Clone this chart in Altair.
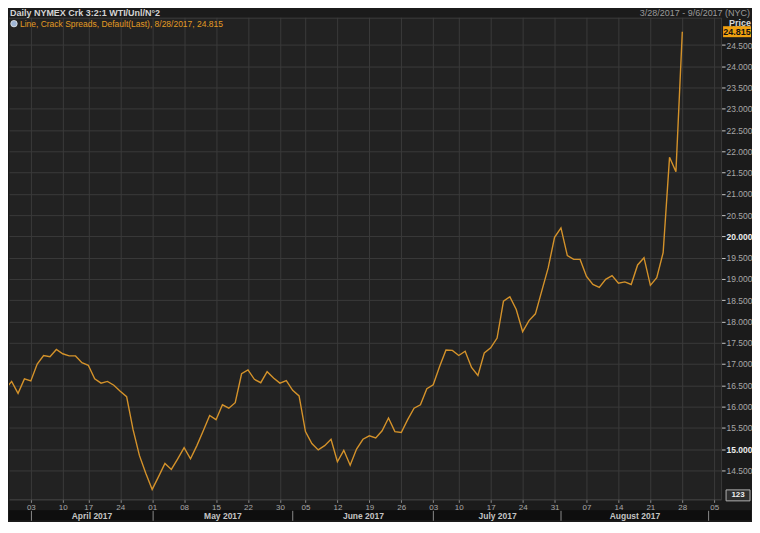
import json
import pandas as pd
import altair as alt

# ---------------- texts ----------------
TITLE = "Daily NYMEX Crk 3:2:1 WTI/Unl/N°2"
RANGE_TEXT = "3/28/2017 - 9/6/2017 (NYC)"
LEGEND_TEXT = "Line, Crack Spreads, Default(Last), 8/28/2017, 24.815"
AXIS_HEAD = ["Price", "USD"]
BUTTON_TEXT = "123"

# ---------------- calendar ----------------
range_start, range_end = "2017-03-28", "2017-09-06"
holidays = ["2017-04-14", "2017-05-29", "2017-07-04", "2017-09-04"]

# ---------------- daily closes (trading days) ----------------
mar_2017 = [16.41, 16.59, 16.31, 16.65]
apr_2017 = [16.60, 17.00, 17.20, 17.17, 17.34,
            17.24, 17.19, 17.19, 17.03,
            16.97, 16.65, 16.55, 16.59, 16.50,
            16.36, 16.23, 15.46, 14.85, 14.43]
may_2017 = [14.05, 14.35, 14.66, 14.52, 14.77,
            15.03, 14.77, 15.08, 15.43, 15.79,
            15.69, 16.04, 15.96, 16.09, 16.77,
            16.86, 16.64, 16.56, 16.82, 16.67,
            16.55, 16.61]
jun_2017 = [16.38, 16.25,
            15.41, 15.13, 14.98, 15.08, 15.23,
            14.70, 14.97, 14.62, 15.00, 15.23,
            15.31, 15.26, 15.43, 15.73, 15.41,
            15.39, 15.69, 15.96, 16.04, 16.42]
jul_2017 = [16.51, 16.94, 17.33, 17.32,
            17.20, 17.30, 16.92, 16.73, 17.26,
            17.38, 17.61, 18.48, 18.58, 18.28,
            17.76, 18.02, 18.18, 18.72, 19.26,
            19.98]
aug_2017 = [20.20, 19.55, 19.46, 19.46,
            19.06, 18.87, 18.80, 18.99, 19.08,
            18.90, 18.93, 18.87, 19.33, 19.50,
            18.85, 19.03, 19.62, 21.86, 21.52,
            24.815]

y_ticks = [14.5, 15.0, 15.5, 16.0, 16.5, 17.0, 17.5, 18.0, 18.5, 19.0, 19.5,
           20.0, 20.5, 21.0, 21.5, 22.0, 22.5, 23.0, 23.5, 24.0, 24.5]

# ---------------- layout / style ----------------
W, H = 714, 492
X_LO, X_HI = 0.584, 112.07
Y_LO, Y_HI = 13.816, 25.356
BG = "#1b1b1b"
PLOT_BG = "#222222"
GRID = "#3a3a3a"
LINE = "#d4922a"
ORANGE = "#f0a010"
FONT = "Liberation Sans"

days = [d for d in pd.bdate_range(range_start, range_end)
        if d.strftime("%Y-%m-%d") not in holidays]
cal = pd.DataFrame({"date": days})
cal["i"] = range(len(cal))

prices = mar_2017 + apr_2017 + may_2017 + jun_2017 + jul_2017 + aug_2017
df = cal.iloc[:len(prices)].copy()
df["v"] = prices
df["date"] = df["date"].dt.strftime("%Y-%m-%d")
last = df.tail(1)

iso_week = cal["date"].dt.isocalendar()["week"].values
wk = cal.groupby(iso_week)["i"].min()
week_idx = [int(i) for i in wk.values if i >= X_LO]
week_lab = [cal.loc[i, "date"].strftime("%d") for i in week_idx]

mo = cal.groupby(cal["date"].dt.month.values)["i"].min()
month_idx = [int(i) for i in mo.values if i >= X_LO]
month_mid = [(a + b) / 2 for a, b in zip(month_idx[:-1], month_idx[1:])]
month_lab = [cal.loc[a, "date"].strftime("%B %Y") for a in month_idx[:-1]]

week_expr = f"{json.dumps(week_lab)}[indexof({json.dumps(week_idx)}, datum.value)]"
month_expr = f"{json.dumps(month_lab)}[indexof({json.dumps(month_mid)}, datum.value)]"

xs = alt.Scale(domain=[X_LO, X_HI], nice=False, zero=False)
ys = alt.Scale(domain=[Y_LO, Y_HI], nice=False, zero=False)

axA = alt.Axis(orient="bottom", values=week_idx, labelExpr=week_expr, title=None,
               tickSize=3, tickColor="#8a8a8a", labelColor="#a8a8a8",
               labelFontSize=8, labelFont=FONT, labelPadding=1,
               labelOverlap=False, domainColor="#4a4a4a",
               grid=True, gridColor=GRID, gridWidth=1, gridOpacity=1)
axB = alt.Axis(orient="bottom", values=month_idx, labels=False, title=None,
               tickSize=10, offset=11, tickColor="#8a8a8a", domain=False,
               grid=False, zindex=1)
axC = alt.Axis(orient="bottom", values=month_mid, labelExpr=month_expr, title=None,
               ticks=False, domain=False, grid=False, offset=12, labelPadding=0,
               labelFontWeight="bold", labelColor="#c4c4c4", labelFontSize=8.5,
               labelFont=FONT, labelOverlap=False, zindex=1)
axY = alt.Axis(orient="right", values=y_ticks, format=".3f", title=None,
               tickSize=4, tickColor="#c8c8c8", labelPadding=1,
               labelFontSize=8.5, labelFont=FONT,
               labelColor={"expr": "datum.value % 5 === 0 ? '#ececec' : '#a8a8a8'"},
               labelFontWeight={"expr": "datum.value % 5 === 0 ? 'bold' : 'normal'"},
               labelOverlap=False, grid=True, gridColor=GRID, gridWidth=1,
               gridOpacity=1, domainColor="#3a3a3a")

one = pd.DataFrame({"k": [0]})
sep_df = pd.DataFrame({"i": month_idx})
mid_df = pd.DataFrame({"i": month_mid})

line = alt.Chart(df).mark_line(color=LINE, strokeWidth=1.4, clip=True).encode(
    x=alt.X("i:Q", scale=xs, axis=axA),
    y=alt.Y("v:Q", scale=ys, axis=axY),
)
sep = alt.Chart(sep_df).mark_rule(opacity=0, clip=True).encode(
    x=alt.X("i:Q", scale=xs, axis=axB),
)
mon = alt.Chart(mid_df).mark_rule(opacity=0, clip=True).encode(
    x=alt.X("i:Q", scale=xs, axis=axC),
)

header_band = alt.Chart(one).mark_rect(color=BG).encode(
    x=alt.value(0), x2=alt.value(W + 30), y=alt.value(0), y2=alt.value(9))
header_rule = alt.Chart(one).mark_rule(color="#3c3c3c", strokeWidth=1).encode(
    x=alt.value(0), x2=alt.value(W), y=alt.value(9.5))
month_band = alt.Chart(one).mark_rect(color="#0e0e0e").encode(
    x=alt.value(0), x2=alt.value(W + 30), y=alt.value(H + 11), y2=alt.value(H + 21))

title_t = alt.Chart(pd.DataFrame({"t": [TITLE]})).mark_text(
    align="left", baseline="middle", font=FONT, fontSize=9, fontWeight="bold",
    color="#d4d4d4").encode(x=alt.value(1), y=alt.value(4.5), text="t:N")
range_t = alt.Chart(pd.DataFrame({"t": [RANGE_TEXT]})).mark_text(
    align="right", baseline="middle", font=FONT, fontSize=9,
    color="#9a9a9a").encode(x=alt.value(W + 29), y=alt.value(4), text="t:N")
price_t = alt.Chart(pd.DataFrame({"t": [AXIS_HEAD[0]]})).mark_text(
    align="left", baseline="middle", font=FONT, fontSize=9, fontWeight="bold",
    color="#d8d8d8").encode(x=alt.value(W + 8), y=alt.value(14), text="t:N")
usd_t = alt.Chart(pd.DataFrame({"t": [AXIS_HEAD[1]]})).mark_text(
    align="left", baseline="middle", font=FONT, fontSize=8, fontWeight="bold",
    color="#d8d8d8").encode(x=alt.value(W + 8), y=alt.value(20), text="t:N")

icon = alt.Chart(one).mark_point(shape="circle", filled=True, size=42,
                                 color="#9fb6d6", stroke="#e6e6e6",
                                 strokeWidth=0.8, opacity=1).encode(
    x=alt.value(5), y=alt.value(15))
legend_t = alt.Chart(pd.DataFrame({"t": [LEGEND_TEXT]})).mark_text(
    align="left", baseline="middle", font=FONT, fontSize=8.5,
    color="#e39b22").encode(x=alt.value(11), y=alt.value(15), text="t:N")

box = alt.Chart(last).mark_point(
    shape="M-1,-0.393L1,-0.393L1,0.393L-1,0.393Z", size=784, filled=True,
    color=ORANGE, opacity=1, clip=False).encode(
    x=alt.value(W + 16), y=alt.Y("v:Q", scale=ys, axis=axY))
box_t = alt.Chart(last).mark_text(
    align="center", baseline="middle", font=FONT, fontSize=9, fontWeight="bold",
    color="#111111").encode(
    x=alt.value(W + 16), y=alt.Y("v:Q", scale=ys, axis=axY),
    text=alt.Text("v:Q", format=".3f"))

button = alt.Chart(one).mark_point(
    shape="M-1,-0.458L1,-0.458L1,0.458L-1,0.458Z", size=576, filled=True,
    color="#2e2e2e", stroke="#b0b0b0", strokeWidth=1, opacity=1).encode(
    x=alt.value(W + 17), y=alt.value(H - 4))
button_t = alt.Chart(pd.DataFrame({"t": [BUTTON_TEXT]})).mark_text(
    align="center", baseline="middle", font=FONT, fontSize=8, fontWeight="bold",
    color="#f0f0f0").encode(x=alt.value(W + 17), y=alt.value(H - 4), text="t:N")

chart = alt.layer(
    line, sep, mon, header_band, header_rule, month_band,
    title_t, range_t, price_t, usd_t, icon, legend_t,
    box, box_t, button, button_t,
).resolve_scale(x="shared", y="shared").resolve_axis(
    x="independent", y="shared"
).properties(width=W, height=H).configure(
    background=BG, padding=0
).configure_view(fill=PLOT_BG, stroke=None)

chart.save("out.html", embed_options={"renderer": "svg", "actions": False})
